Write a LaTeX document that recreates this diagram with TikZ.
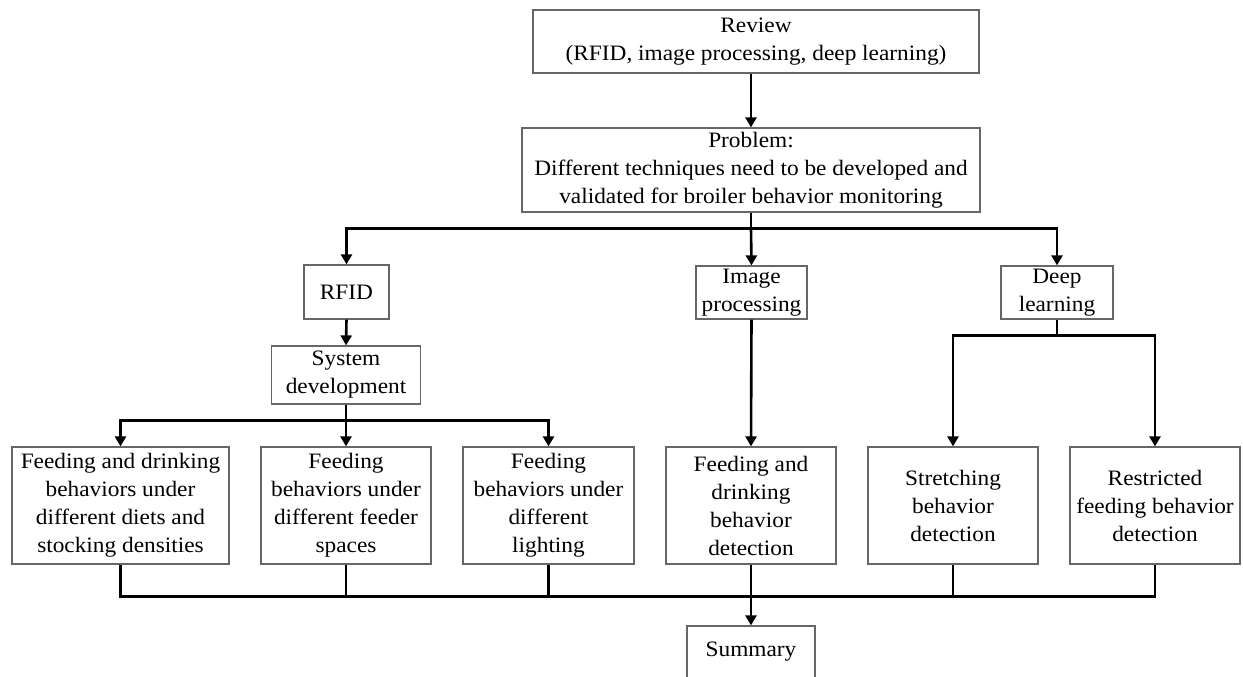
\documentclass[tikz,border=0pt]{standalone}
\usepackage{fontspec}
\setmainfont{Liberation Serif}[FakeStretch=1.06]
\usetikzlibrary{arrows.meta}
\begin{document}
\begin{tikzpicture}[x=1pt,y=-1pt,
  box/.style={draw=black!60, line width=1.2pt, align=center, inner sep=0pt,
    font=\fontsize{22}{28}\selectfont, fill=white},
  conn/.style={line width=2.6pt, draw=black},
  arr/.style={conn, -{Triangle[width=11pt,length=10pt]}}]
\clip (0,0) rectangle (1243,677);
\fill[white] (0,0) rectangle (1243,677);

% top
\node[box, minimum width=446pt, minimum height=63pt] (review) at (756,41.5)
  {Review\\(RFID, image processing, deep learning)};
\node[box, minimum width=458pt, minimum height=84pt] (problem) at (751,170)
  {Problem:\\Different techniques need to be developed and\\validated for broiler behavior monitoring};

% techniques
\node[box, minimum width=85pt, minimum height=54pt] (rfid) at (346.5,292) {RFID};
\node[box, minimum width=111pt, minimum height=53pt] (img) at (751.5,292.5) {Image\\processing};
\node[box, minimum width=112pt, minimum height=53pt] (deep) at (1057,292.5) {Deep\\learning};
\node[box, minimum width=149pt, minimum height=58pt] (sysdev) at (346,375) {System\\development};

% bottom row
\node[box, minimum width=217pt, minimum height=117pt] (b1) at (120.5,505.5)
  {Feeding and drinking\\behaviors under\\different diets and\\stocking densities};
\node[box, minimum width=170pt, minimum height=117pt] (b2) at (346,505.5)
  {Feeding\\behaviors under\\different feeder\\spaces};
\node[box, minimum width=171pt, minimum height=117pt] (b3) at (548.5,505.5)
  {Feeding\\behaviors under\\different\\lighting};
\node[box, minimum width=170pt, minimum height=117pt] (b4) at (751,505.5)
  {Feeding and\\drinking\\behavior\\detection};
\node[box, minimum width=170pt, minimum height=117pt] (b5) at (953,505.5)
  {Stretching\\behavior\\detection};
\node[box, minimum width=170pt, minimum height=117pt] (b6) at (1155,505.5)
  {Restricted\\feeding behavior\\detection};
\node[box, minimum width=128pt, minimum height=52pt] (summary) at (751,652) {Summary};

% connectors
\draw[arr] (review.south -| problem.north) -- (problem.north);
\draw[conn] (problem.south) -- ++(0,16) coordinate (pb);
\draw[arr] (pb) -| (rfid.north);
\draw[arr] (pb) -| (deep.north);
\draw[arr] (pb) -- (img.north);
\draw[arr] (rfid.south) -- (sysdev.north);
\draw[conn] (sysdev.south) -- ++(0,16) coordinate (sb);
\draw[arr] (sb) -| (b1.north);
\draw[arr] (sb) -| (b3.north);
\draw[arr] (sb) -- (b2.north);
\draw[arr] (img.south) -- (b4.north);
\draw[conn] (deep.south) -- ++(0,16) coordinate (db);
\draw[arr] (db) -| (b5.north);
\draw[arr] (db) -| (b6.north);
\draw[conn] (b1.south) -- ++(0,32) coordinate (bus) -| (b6.south);
\draw[conn] (b2.south) -- (b2.south |- bus);
\draw[conn] (b3.south) -- (b3.south |- bus);
\draw[conn] (b5.south) -- (b5.south |- bus);
\draw[arr] (b4.south) -- (summary.north);
\end{tikzpicture}
\end{document}
